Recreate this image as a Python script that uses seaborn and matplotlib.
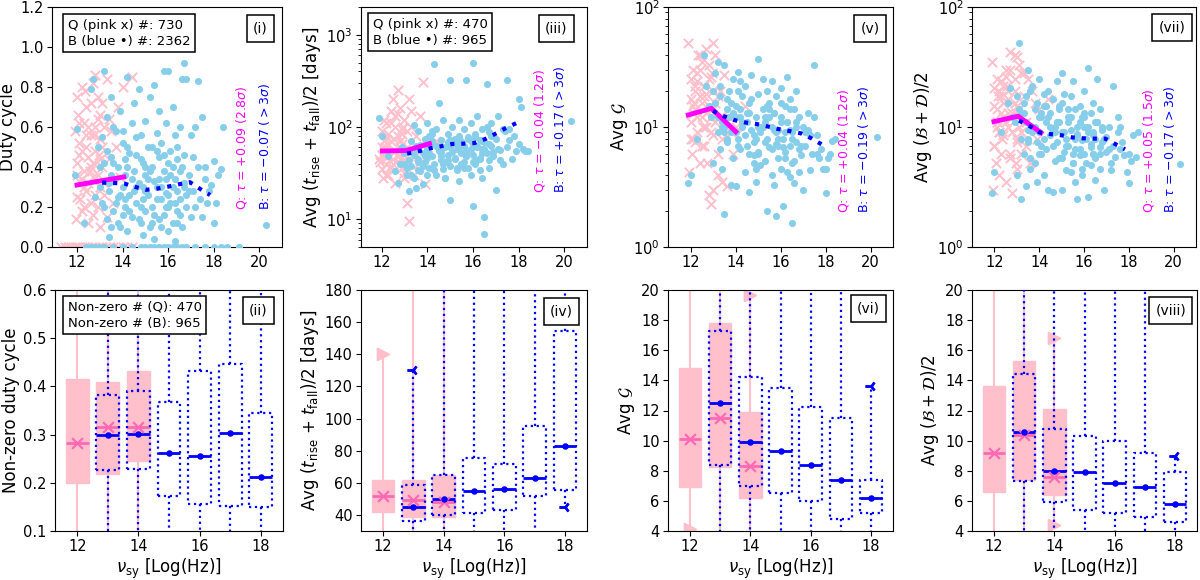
import matplotlib
matplotlib.use("Agg")
import matplotlib.pyplot as plt
import matplotlib.transforms as mtransforms
import seaborn as sns

# ---- top row: sources with non-zero duty cycle (Q = pink x, B = blue dots)
nu_b = [11.9, 12.0, 12.3, 12.6, 12.7, 12.9, 13.0, 13.1, 13.2, 13.2,
        13.3, 13.3, 13.4, 13.4, 13.5, 13.5, 13.6, 13.6, 13.7, 13.8,
        13.8, 13.9, 13.9, 14.0, 14.0, 14.1, 14.1, 14.2, 14.2, 14.3,
        14.3, 14.4, 14.4, 14.5, 14.5, 14.6, 14.6, 14.7, 14.7, 14.8,
        14.8, 14.9, 14.9, 15.0, 15.0, 15.0, 15.1, 15.1, 15.2, 15.2,
        15.3, 15.3, 15.4, 15.4, 15.4, 15.5, 15.5, 15.6, 15.6, 15.6,
        15.7, 15.7, 15.8, 15.8, 15.8, 15.9, 15.9, 16.0, 16.0, 16.0,
        16.1, 16.1, 16.2, 16.2, 16.3, 16.3, 16.3, 16.4, 16.4, 16.4,
        16.5, 16.5, 16.5, 16.6, 16.6, 16.7, 16.7, 16.7, 16.8, 16.8,
        16.9, 17.0, 17.0, 17.1, 17.2, 17.3, 17.3, 17.4, 17.5, 17.5,
        17.6, 17.7, 17.8, 17.9, 18.0, 18.0, 18.1, 18.2, 18.3, 18.4, 20.3,
        13.4, 13.7, 14.0, 14.2, 14.5, 14.8, 15.1, 15.3, 15.7, 16.2,
        13.1, 13.6, 14.1, 14.6, 15.0, 15.5, 15.9, 16.4, 16.8, 17.1,
        13.2, 13.5, 13.8, 14.1, 14.3, 14.6, 14.9, 15.2, 15.4, 15.6,
        15.8, 16.0, 16.2, 16.5, 16.7, 13.3, 13.9, 14.4, 14.7, 15.0,
        15.3, 15.7, 16.1, 16.3, 16.6, 13.6, 14.2, 14.8, 15.5, 16.0,
        12.8, 13.0, 13.5, 14.0, 14.9, 15.9, 16.4, 16.9, 17.2, 17.6]
duty_b = [0.36, 0.59, 0.12, 0.79, 0.84, 0.50, 0.30, 0.22, 0.88, 0.42,
          0.14, 0.65, 0.28, 0.05, 0.45, 0.75, 0.33, 0.18, 0.58, 0.25,
          0.40, 0.10, 0.68, 0.30, 0.52, 0.20, 0.36, 0.85, 0.08, 0.47,
          0.26, 0.62, 0.15, 0.38, 0.72, 0.22, 0.55, 0.79, 0.32, 0.12,
          0.44, 0.06, 0.30, 0.63, 0.18, 0.36, 0.50, 0.26, 0.75, 0.10,
          0.40, 0.20, 0.81, 0.33, 0.04, 0.57, 0.24, 0.45, 0.14, 0.68,
          0.30, 0.52, 0.88, 0.16, 0.38, 0.27, 0.62, 0.88, 0.08, 0.42,
          0.22, 0.48, 0.12, 0.70, 0.34, 0.03, 0.56, 0.28, 0.44, 0.18,
          0.38, 0.24, 0.60, 0.84, 0.10, 0.92, 0.32, 0.46, 0.84, 0.20,
          0.36, 0.56, 0.15, 0.28, 0.60, 0.83, 0.40, 0.24, 0.65, 0.15,
          0.34, 0.22, 0.28, 0.31, 0.43, 0.12, 0.22, 0.36, 0.39, 0.60, 0.11,
          0.32, 0.22, 0.16, 0.40, 0.28, 0.20, 0.34, 0.12, 0.24, 0.30,
          0.55, 0.42, 0.24, 0.46, 0.40, 0.30, 0.20, 0.50, 0.26, 0.45,
          0.20, 0.36, 0.12, 0.44, 0.18, 0.30, 0.24, 0.38, 0.16, 0.34,
          0.46, 0.26, 0.40, 0.16, 0.30, 0.48, 0.26, 0.34, 0.14, 0.28,
          0.50, 0.10, 0.36, 0.22, 0.40, 0.60, 0.50, 0.56, 0.48, 0.20,
          0.25, 0.40, 0.10, 0.58, 0.42, 0.34, 0.12, 0.28, 0.20, 0.40]
tvar_b = [125, 80, 48, 33, 25, 60, 40, 30, 20, 55,
          70, 38, 105, 28, 22, 62, 45, 90, 33, 52,
          24, 75, 42, 110, 58, 36, 66, 48, 85, 480,
          40, 95, 30, 55, 180, 72, 44, 35, 120, 60,
          28, 85, 50, 16, 320, 38, 65, 100, 46, 75,
          58, 34, 80, 120, 26, 52, 70, 42, 95, 62,
          48, 320, 36, 78, 55, 110, 30, 500, 14, 66,
          85, 40, 60, 130, 45, 72, 34, 95, 58, 28,
          10.5, 7, 68, 290, 52, 44, 88, 36, 110, 62,
          48, 21, 75, 130, 56, 40, 95, 90, 320, 60,
          95, 45, 80, 55, 200, 65, 165, 58, 55, 55, 115,
          50, 64, 46, 70, 58, 42, 54, 66, 48, 62,
          36, 42, 52, 48, 60, 40, 70, 52, 80, 58,
          44, 58, 38, 80, 34, 54, 68, 45, 60, 36,
          74, 50, 44, 58, 66, 30, 48, 62, 40, 72,
          36, 56, 78, 46, 100, 34, 90, 28, 66, 42,
          40, 52, 60, 30, 44, 58, 70, 54, 44, 72]
g_b = [3.4, 4.0, 8.0, 40, 22, 12, 5.0, 28, 35, 9.0,
       18, 6.5, 11, 4.5, 1.9, 33, 14, 7.5, 20, 3.3,
       9, 25, 5.5, 3.2, 15, 29, 8, 12, 6.5, 18,
       10, 4.2, 22, 7, 13, 2.9, 16, 27, 9.5, 5.8,
       7.5, 12, 3.5, 37, 6, 19, 9, 4.8, 14, 25,
       11, 5.2, 20, 8, 2.0, 16, 6.8, 24, 4.0, 10,
       3.3, 13, 7.2, 18, 1.8, 9.5, 5.5, 21, 12, 4.5,
       8, 2.2, 15, 6.2, 11, 4.2, 26, 7, 3.8, 17,
       1.6, 9, 5, 14, 3.4, 20, 7.5, 11, 4.2, 6.5,
       5.8, 3.0, 10, 7, 13, 4.4, 8.5, 6, 33, 12,
       8.5, 5.5, 6.5, 4.5, 2.8, 4.5, 5.5, 6.0, 7.7, 8.0, 8.3,
       10, 12, 9, 14, 11, 8.5, 10, 7.5, 13, 9,
       16, 8, 20, 6, 10, 14, 7, 9.5, 12, 9,
       12, 9, 16, 7, 11, 13, 8, 10, 15, 6.5,
       9, 11, 5.5, 8, 10, 22, 13, 8.5, 17, 6.2,
       12, 9.5, 6.8, 11, 5.2, 17, 24, 5, 12, 16,
       15, 20, 10, 12, 4.5, 8, 14, 7, 9.5, 6]
bd_b = [2.8, 4.2, 9.0, 16, 21, 11, 4.0, 50, 2.5, 8.0,
        13, 6, 18, 3.2, 7.5, 30, 10, 4.5, 22, 14,
        5, 16, 3.5, 9, 25, 7, 12, 4, 19, 11,
        6.5, 20, 3.0, 13, 8.5, 2.9, 17, 10, 5.2, 24,
        11, 5.5, 15, 28, 3.0, 9, 6.2, 19, 8, 4.4,
        7, 12, 4.2, 18, 9.5, 5, 24, 6.5, 3.5, 14,
        2.5, 8.8, 15, 5.8, 11, 4, 7.8, 20, 6, 12,
        10, 5, 2.6, 31, 7.2, 13, 4.8, 9, 16, 6,
        5.5, 8, 3.6, 25, 11, 6.8, 4.5, 14, 7.5, 9.5,
        3.0, 8.2, 6.2, 10, 4.4, 7, 22, 5.6, 9, 12,
        6.5, 7.5, 5.8, 4.2, 3.4, 6.0, 5.2, 8.5, 5.6, 9.0, 4.9,
        11, 9, 12, 8, 10, 7.5, 9, 11, 8.5, 10,
        14, 5.5, 13, 7, 16, 6, 12, 8.5, 10, 6.6,
        13, 8, 10, 6, 15, 9, 11, 7, 12, 8,
        6.5, 10, 9, 11, 6, 16, 7.5, 12, 9, 5.5,
        14, 10, 8, 6.8, 11, 20, 15, 11, 5, 13,
        12, 18, 9.5, 6, 14, 4.5, 6, 8, 5, 10]

nu_q = [11.9, 11.95, 12.0, 12.0, 12.0, 12.05, 12.1, 12.1, 12.2, 12.2,
        12.3, 12.3, 12.4, 12.4, 12.5, 12.5, 12.6, 12.6, 12.7, 12.7,
        12.8, 12.8, 12.9, 12.9, 13.0, 13.0, 13.0, 13.1, 13.1, 13.2,
        13.2, 13.3, 13.3, 13.4, 13.5, 13.6, 13.8, 13.9, 14.0, 14.4,
        12.1, 12.3, 12.5, 12.6, 12.8, 12.9, 12.4, 12.2, 12.7, 13.0,
        12.0, 12.1, 12.2, 12.3, 12.4, 12.5, 12.6, 12.7, 12.8, 12.9,
        13.0, 13.1, 12.15, 12.35, 12.55, 12.75, 12.95, 13.2, 13.4, 13.7]
duty_q = [0.58, 0.14, 0.75, 0.42, 0.25, 0.66, 0.33, 0.52, 0.80, 0.18,
          0.38, 0.62, 0.28, 0.70, 0.45, 0.12, 0.56, 0.22, 0.82, 0.35,
          0.86, 0.48, 0.20, 0.64, 0.30, 0.54, 0.10, 0.72, 0.40, 0.26,
          0.60, 0.15, 0.84, 0.44, 0.58, 0.22, 0.70, 0.35, 0.80, 0.85,
          0.46, 0.30, 0.60, 0.40, 0.26, 0.75, 0.50, 0.34, 0.16, 0.44,
          0.36, 0.62, 0.48, 0.20, 0.56, 0.32, 0.72, 0.42, 0.60, 0.36,
          0.66, 0.50, 0.24, 0.78, 0.38, 0.56, 0.46, 0.32, 0.64, 0.50]
tvar_q = [45, 42, 60, 35, 90, 28, 120, 50, 75, 40,
          65, 30, 150, 38, 200, 55, 100, 25, 250, 48,
          70, 160, 36, 85, 120, 45, 32, 15, 60, 200,
          9.5, 150, 100, 55, 80, 40, 310, 24, 60, 70,
          55, 85, 45, 130, 60, 95, 70, 110, 80, 52,
          50, 70, 30, 48, 110, 40, 55, 140, 45, 65,
          28, 90, 60, 36, 75, 50, 100, 42, 30, 130]
g_q = [50, 4.2, 25, 17, 11, 6.0, 30, 8, 14, 20,
       9, 28, 5, 18, 12, 35, 7, 22, 45, 10,
       2.7, 15, 2.3, 26, 50, 3.0, 8.5, 16, 40, 6,
       4.0, 12, 20, 3.5, 27, 3.2, 9, 6, 10, 15,
       13, 24, 16, 10, 33, 12, 40, 7.5, 19, 14,
       8, 15, 22, 12, 30, 7, 18, 13, 25, 9,
       20, 11, 16, 40, 10, 5, 28, 18, 8, 12]
bd_q = [35, 3.0, 21, 15, 7, 5, 11, 25, 4, 9,
        13, 6, 22, 8.5, 3.5, 30, 10, 17, 42, 5.5,
        2.8, 12, 40, 20, 38, 4.5, 7.5, 14, 33, 9,
        6, 28, 18, 11, 25, 5, 16, 8, 14, 17,
        10, 18, 26, 13, 9, 16, 12, 20, 30, 8,
        7, 14, 9, 24, 16, 11, 20, 6, 13, 25,
        15, 10, 18, 8, 22, 12, 5, 28, 7, 20]

# sources with zero duty cycle (only in panel i)
nu_q_zero = [11.3, 11.45, 11.6, 11.75, 11.9, 12.0, 12.1, 12.2, 12.35, 12.5, 12.65,
             12.8, 12.95, 13.1, 13.25, 13.4, 13.6, 13.8, 14.0, 14.2, 14.4]
nu_b_zero = [12.4, 12.6, 12.8, 13.0, 13.2, 13.6, 14.0, 14.4, 14.8, 15.0, 15.2, 15.4, 15.6,
             15.8, 16.0, 16.2, 16.4, 16.6, 16.8, 17.2, 17.6, 18.0, 18.3, 18.6, 19.1]

# binned trends
duty_q_tx = [12.0, 13.0, 14.05]
duty_q_ty = [0.31, 0.33, 0.35]
duty_b_tx = [13.1, 13.6, 14.08, 14.56, 15.03, 15.52, 16.0, 16.48, 16.96, 17.41, 17.84]
duty_b_ty = [0.322, 0.32, 0.317, 0.30, 0.286, 0.292, 0.302, 0.314, 0.324, 0.29, 0.26]
tvar_q_tx = [12.04, 13.06, 14.1]
tvar_q_ty = [55, 55.5, 66]
tvar_b_tx = [13.12, 13.64, 14.14, 14.6, 15.1, 15.6, 16.07, 16.55, 17.0, 17.45, 17.9]
tvar_b_ty = [51.5, 54.6, 58.8, 61.8, 65.5, 66, 67, 74.2, 84.7, 97.5, 110]
g_q_tx = [11.9, 12.93, 14.01]
g_q_ty = [12.6, 14.3, 9.15]
g_b_tx = [13.0, 13.48, 13.96, 14.44, 14.93, 15.44, 15.92, 16.4, 16.9, 17.37, 17.82]
g_b_ty = [13.6, 12.3, 11.4, 10.9, 10.6, 10.1, 9.6, 9.26, 8.86, 8.05, 7.18]
bd_q_tx = [11.98, 13.06, 14.08]
bd_q_ty = [11.1, 12.3, 8.97]
bd_b_tx = [13.1, 13.57, 14.0, 14.48, 15.0, 15.45, 15.96, 16.45, 16.95, 17.39, 17.83]
bd_b_ty = [11.3, 10.2, 9.03, 8.74, 8.53, 8.2, 8.05, 8.0, 8.0, 7.22, 6.52]

tau_q = ["+0.09 (2.8$\\sigma$)", "\u22120.04 (1.2$\\sigma$)", "+0.04 (1.2$\\sigma$)", "+0.05 (1.5$\\sigma$)"]
tau_b = ["\u22120.07 ($>3\\sigma$)", "+0.17 ($>3\\sigma$)", "\u22120.19 ($>3\\sigma$)", "\u22120.17 ($>3\\sigma$)"]

# ---- bottom row: box statistics per nu_sy bin, [whislo, q1, med, q3, whishi]
box_pos_q = [12, 13, 14]
box_pos_b = [13, 14, 15, 16, 17, 18]
duty_q_box = [[0.01, 0.200, 0.283, 0.416, 0.85], [0.01, 0.218, 0.315, 0.410, 0.86],
              [0.02, 0.245, 0.315, 0.432, 0.85]]
duty_b_box = [[0.01, 0.227, 0.300, 0.382, 0.88], [0.02, 0.228, 0.302, 0.391, 0.85],
              [0.02, 0.172, 0.261, 0.368, 0.88], [0.02, 0.157, 0.255, 0.432, 0.92],
              [0.02, 0.151, 0.304, 0.446, 0.83], [0.05, 0.150, 0.212, 0.345, 0.65]]
tvar_q_box = [[12, 42.1, 51.5, 61.9, 140], [9.5, 38.5, 49.0, 61.5, 310],
              [24, 38.5, 48.3, 65.0, 250]]
tvar_b_box = [[20, 36.5, 45.2, 58.7, 130], [22, 40.0, 49.8, 64.6, 480],
              [16, 41.0, 54.6, 75.4, 320], [14, 43.1, 56.0, 71.9, 500],
              [21, 51.5, 62.9, 95.2, 320], [45, 55.6, 83.1, 154.6, 200]]
g_q_box = [[4.1, 6.9, 10.1, 14.8, 50], [2.3, 8.27, 11.5, 17.8, 50],
           [3.2, 6.2, 8.3, 11.9, 19.7]]
g_b_box = [[1.9, 8.4, 12.5, 17.3, 40], [3.2, 7.0, 9.9, 14.2, 29],
           [2.0, 6.5, 9.3, 13.5, 37], [1.8, 6.0, 8.4, 12.2, 26],
           [3.0, 4.8, 7.4, 11.5, 33], [2.8, 5.2, 6.2, 7.4, 13.6]]
bd_q_box = [[3.0, 6.6, 9.2, 13.6, 35], [2.8, 7.4, 10.4, 15.3, 42],
            [4.4, 6.4, 7.6, 12.1, 16.8]]
bd_b_box = [[2.5, 7.3, 10.6, 14.4, 50], [2.9, 5.9, 8.0, 10.8, 25],
            [3.0, 5.4, 7.9, 10.3, 28], [2.5, 5.2, 7.2, 10.0, 31],
            [3.0, 4.9, 6.9, 9.2, 22], [3.4, 4.6, 5.8, 7.9, 9.0]]

plt.rcParams["xtick.labelsize"] = 10.5
plt.rcParams["ytick.labelsize"] = 10.5
plt.rcParams["xtick.major.pad"] = 2.5
plt.rcParams["ytick.major.pad"] = 2.5
plt.rcParams["axes.labelsize"] = 12
plt.rcParams["axes.labelpad"] = 2.5

W, H = 1200, 580
fig = plt.figure(figsize=(12, 5.8), dpi=100)
BOX_FS = 9.5
BOX_PAD = 0.35
PAD_PX = BOX_PAD * BOX_FS * 100 / 72


def px_axes(left, top, right, bottom):
    return fig.add_axes([left / W, 1 - bottom / H, (right - left) / W, (bottom - top) / H])


def corner_box(ax, text, dx, dy, right=True, pad=BOX_PAD, fs=BOX_FS):
    # text box whose frame sits dx, dy pixels inside an upper corner of the axes
    pad_px = pad * fs * 100 / 72
    dx, dy = dx + pad_px, dy + pad_px
    style = dict(boxstyle=f"square,pad={pad}", fc="white", ec="black", lw=1.1)
    if right:
        tr = mtransforms.offset_copy(ax.transAxes, fig=fig, x=-dx, y=-dy, units="dots")
        ax.text(1, 1, text, transform=tr, ha="right", va="top", fontsize=fs, bbox=style, zorder=10)
    else:
        tr = mtransforms.offset_copy(ax.transAxes, fig=fig, x=dx, y=-dy, units="dots")
        ax.text(0, 1, text, transform=tr, ha="left", va="top", fontsize=fs,
                linespacing=1.3, bbox=style, zorder=10)


nu_label = "$\\nu_{\\rm sy}$ [Log(Hz)]"
labels_top = ["Duty cycle", "Avg ($t_{\\rm rise}$ + $t_{\\rm fall}$)/2 [days]",
              "Avg $\\mathcal{G}$", "Avg $(\\mathcal{B}+\\mathcal{D})/2$"]
labels_bot = ["Non-zero duty cycle", "Avg ($t_{\\rm rise}$ + $t_{\\rm fall}$)/2 [days]",
              "Avg $\\mathcal{G}$", "Avg $(\\mathcal{B}+\\mathcal{D})/2$"]

top_boxes = [(52, 282), (361, 587), (668, 893), (972, 1196)]
bot_boxes = [(55, 283), (361, 587), (668, 893), (972, 1197)]

top_data = [
    (duty_q, duty_b, duty_q_tx, duty_q_ty, duty_b_tx, duty_b_ty, (10.9, 21), (0, 1.2), "linear"),
    (tvar_q, tvar_b, tvar_q_tx, tvar_q_ty, tvar_b_tx, tvar_b_ty, (11.1, 21), (5, 2000), "log"),
    (g_q, g_b, g_q_tx, g_q_ty, g_b_tx, g_b_ty, (11, 21), (1, 100), "log"),
    (bd_q, bd_b, bd_q_tx, bd_q_ty, bd_b_tx, bd_b_ty, (11, 21), (1, 100), "log"),
]
top_tags = ["(i)", "(iii)", "(v)", "(vii)"]
tag_off_top = [(8, 8), (13, 8), (7, 8), (4.5, 7)]
legend_top = ["Q (pink x) #: 730\nB (blue \u2022) #: 2362", "Q (pink x) #: 470\nB (blue \u2022) #: 965",
              None, None]
legend_off = [(11, 7), (7, 6)]
tau_pos = [(0.825, 0.926, 0.155), (0.79, 0.88, 0.225), (0.78, 0.87, 0.14), (0.786, 0.88, 0.14)]

for i, (yq, yb, qtx, qty, btx, bty, xlim, ylim, scale) in enumerate(top_data):
    ax = px_axes(top_boxes[i][0], 7, top_boxes[i][1], 247)
    ax.set_yscale(scale)
    sns.scatterplot(x=nu_q, y=yq, marker="x", color="pink", s=45, linewidth=1.4, ax=ax, zorder=2)
    if i == 0:
        sns.scatterplot(x=nu_q_zero, y=[0] * len(nu_q_zero), marker="x", color="pink",
                        s=45, linewidth=1.4, ax=ax, zorder=2)
        sns.scatterplot(x=nu_b_zero, y=[0] * len(nu_b_zero), color="skyblue", s=26,
                        linewidth=0, ax=ax, zorder=3)
    sns.scatterplot(x=nu_b, y=yb, color="skyblue", s=26, linewidth=0, ax=ax, zorder=3)
    sns.lineplot(x=qtx, y=qty, color="magenta", lw=3.5, ax=ax, zorder=5)
    sns.lineplot(x=btx, y=bty, color="blue", lw=3, linestyle=":", ax=ax, zorder=6)
    ax.set_xlim(*xlim)
    ax.set_ylim(*ylim)
    ax.set_xticks([12, 14, 16, 18, 20])
    ax.set_ylabel(labels_top[i])
    ax.set_xlabel("")
    xm, xb, yt = tau_pos[i]
    ax.text(xm, yt, "Q: $\\tau$ = " + tau_q[i], color="magenta", rotation=90, ha="center",
            va="bottom", fontsize=9, transform=ax.transAxes)
    ax.text(xb, yt, "B: $\\tau$ = " + tau_b[i], color="blue", rotation=90, ha="center",
            va="bottom", fontsize=9, transform=ax.transAxes)
    corner_box(ax, top_tags[i], *tag_off_top[i], pad=0.45, fs=10)
    if legend_top[i]:
        corner_box(ax, legend_top[i], *legend_off[i], right=False)

bot_data = [
    (duty_q_box, duty_b_box, (0.1, 0.6)),
    (tvar_q_box, tvar_b_box, (30, 180)),
    (g_q_box, g_b_box, (4, 20)),
    (bd_q_box, bd_b_box, (4, 20)),
]
bot_tags = ["(ii)", "(iv)", "(vi)", "(viii)"]
tag_off_bot = [(9, 7), (8, 8), (6.6, 5), (4.7, 7)]


def to_stats(rows):
    return [dict(whislo=r[0], q1=r[1], med=r[2], q3=r[3], whishi=r[4]) for r in rows]


for i, (qbox, bbox_, ylim) in enumerate(bot_data):
    ax = px_axes(bot_boxes[i][0], 290, bot_boxes[i][1], 531)
    ax.bxp(to_stats(qbox), positions=box_pos_q, widths=0.75, capwidths=0.0, patch_artist=True,
           showfliers=False, manage_ticks=False, zorder=2,
           boxprops=dict(facecolor="pink", edgecolor="pink", linewidth=1),
           whiskerprops=dict(color="pink", linewidth=1.5),
           capprops=dict(color="pink", marker=">", markersize=8, linestyle="none"),
           medianprops=dict(color="hotpink", linewidth=2))
    sns.scatterplot(x=box_pos_q, y=[r[2] for r in qbox], marker="x", color="hotpink", s=60,
                    linewidth=1.6, ax=ax, zorder=4)
    ax.bxp(to_stats(bbox_), positions=box_pos_b, widths=0.75, capwidths=0.0, patch_artist=False,
           showfliers=False, manage_ticks=False, zorder=3,
           boxprops=dict(color="blue", linestyle=":", linewidth=1.6),
           whiskerprops=dict(color="blue", linestyle=":", linewidth=1.6),
           capprops=dict(color="blue", marker="3", markersize=8, markeredgewidth=1.8, linestyle="none"),
           medianprops=dict(color="blue", linewidth=2))
    sns.scatterplot(x=box_pos_b, y=[r[2] for r in bbox_], color="blue", s=22, linewidth=0,
                    ax=ax, zorder=5)
    ax.set_xlim(11.27, 18.73)
    ax.set_ylim(*ylim)
    ax.set_xticks([12, 14, 16, 18])
    ax.set_xlabel(nu_label, labelpad=1.5)
    ax.set_ylabel(labels_bot[i])
    corner_box(ax, bot_tags[i], *tag_off_bot[i], pad=0.45, fs=10)
    if i == 0:
        corner_box(ax, "Non-zero # (Q): 470\nNon-zero # (B): 965", 8, 6, right=False)

fig.savefig("out.png", dpi=100)
